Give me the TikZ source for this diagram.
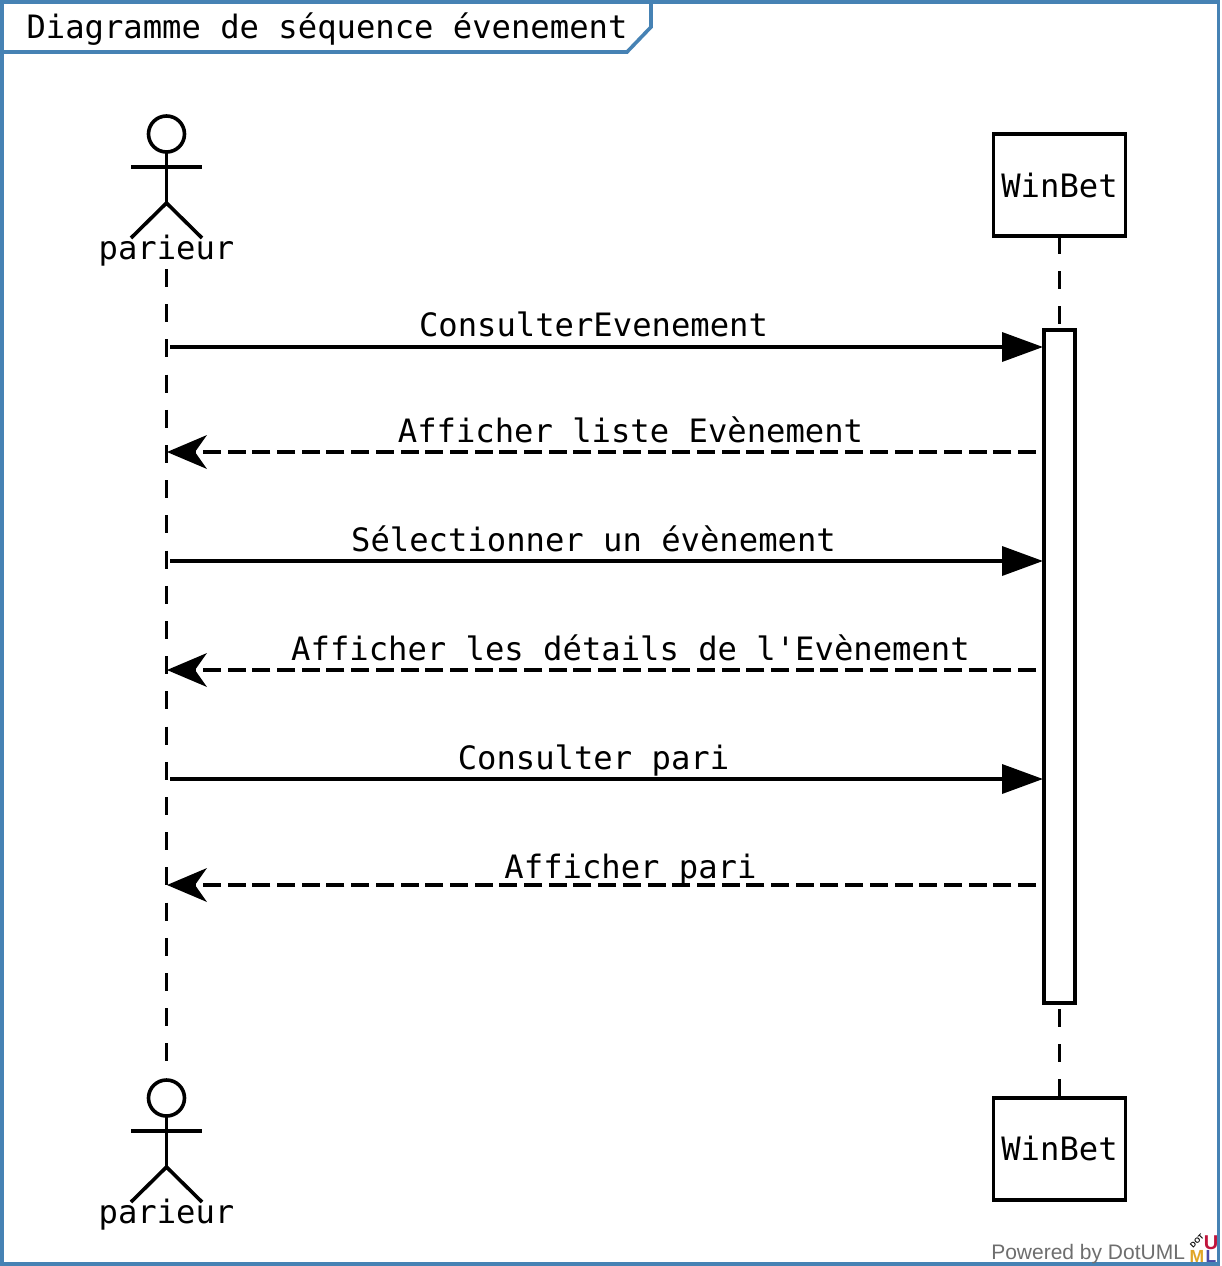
\documentclass[tikz,border=0pt]{standalone}
\usepackage{fontspec}
\setmonofont{DejaVu Sans Mono}
\newfontfamily\brandfont{Liberation Sans}
\usetikzlibrary{arrows.meta}
\definecolor{framecol}{HTML}{4682B4}
\definecolor{brandgray}{HTML}{6E6E6E}
\definecolor{dotyellow}{HTML}{E0A526}
\definecolor{dotred}{HTML}{C0143C}
\definecolor{dotblue}{HTML}{4A4AA8}
\tikzset{
  x=1pt,y=-1pt,
  every node/.style={inner sep=0pt,outer sep=0pt,font=\ttfamily\fontsize{32.2}{36}\selectfont},
  frameline/.style={draw=framecol,line width=3.6pt},
  fig/.style={draw=black,line width=3.6pt},
  objbox/.style={draw=black,fill=white,line width=3.6pt,minimum width=132pt,minimum height=102pt},
  actbox/.style={draw=black,fill=white,line width=3.6pt,minimum width=31pt,minimum height=673pt},
  life/.style={draw=black,line width=3.6pt,dash pattern=on 18pt off 17.2pt},
  call/.style={draw=black,line width=3.6pt,-{Triangle[length=41pt,width=29pt,fill=black]}},
  reply/.style={draw=black,line width=3.6pt,dash pattern=on 18pt off 6.7pt,-{Stealth[length=40pt,width=34pt,inset=12pt,line width=0pt,fill=black]}},
  msg/.style={anchor=base},
}
\newcommand{\stickman}[1]{%
  \draw[fig] (166.5,#1) circle[radius=18pt];
  \draw[fig] (166.5,#1+18) -- (166.5,#1+69);
  \draw[fig] (131,#1+33) -- (202,#1+33);
  \draw[fig] (131,#1+104) -- (166.5,#1+69) -- (202,#1+104);
}
\begin{document}
\begin{tikzpicture}
\useasboundingbox (0,0) rectangle (1221,1266);
\fill[white] (0,0) rectangle (1221,1266);
\draw[frameline] (2,2) rectangle (1218.5,1264);
\draw[frameline] (2,52) -- (627,52) -- (651,27) -- (651,2);
\node[anchor=base west] (title) at (26.5,38) {Diagramme de séquence évenement};

\coordinate (atop) at (166.5,269);
\coordinate (abot) at (166.5,1061);
\stickman{134}
\stickman{1098}
\node[anchor=base] (par1) at (166.5,259) {parieur};
\node[anchor=base] (par2) at (166.5,1223) {parieur};

\node[objbox] (w1) at (1059.5,185) {\raisebox{-0.5pt}{WinBet}};
\node[objbox] (w2) at (1059.5,1149) {\raisebox{0.5pt}{WinBet}};
\node[actbox] (act) at (1059.5,666.5) {};

\draw[life] (atop) -- (abot);
\draw[life] (w1.south) -- (act.north);
\draw[life,dash phase=29.2pt] (act.south) -- (w2.north);

\coordinate (a1) at (170,347);  \coordinate (b1) at (1043,347);
\coordinate (b2) at (1036,452); \coordinate (a2) at (167,452);
\coordinate (a3) at (170,561);  \coordinate (b3) at (1043,561);
\coordinate (b4) at (1036,670); \coordinate (a4) at (167,670);
\coordinate (a5) at (170,779);  \coordinate (b5) at (1043,779);
\coordinate (b6) at (1036,885); \coordinate (a6) at (167,885);

\draw[call] (a1) -- (b1);
\draw[reply] (b2) -- (a2);
\draw[call] (a3) -- (b3);
\draw[reply] (b4) -- (a4);
\draw[call] (a5) -- (b5);
\draw[reply] (b6) -- (a6);

\node[msg] (m1) at (593.5,336) {ConsulterEvenement};
\node[msg] (m2) at (630.5,442) {Afficher liste Evènement};
\node[msg] (m3) at (593.5,551) {Sélectionner un évènement};
\node[msg] (m4) at (630.5,660) {Afficher les détails de l'Evènement};
\node[msg] (m5) at (593.5,769) {Consulter pari};
\node[msg] (m6) at (630.5,878) {Afficher pari};

\node[anchor=base east,font=\brandfont\fontsize{21}{24}\selectfont,text=brandgray] (brand) at (1185,1259) {Powered by DotUML};
\node[anchor=base,font=\brandfont\bfseries\fontsize{17.5}{18}\selectfont,text=dotyellow] (lm) at (1197,1262) {M};
\node[anchor=base,font=\brandfont\bfseries\fontsize{20}{20}\selectfont,text=dotred] (lu) at (1211,1249.5) {U};
\node[anchor=base,font=\brandfont\bfseries\fontsize{17.5}{18}\selectfont,text=dotblue] (ll) at (1211,1262) {L};
\node[rotate=45,font=\brandfont\bfseries\fontsize{7.5}{8}\selectfont,text=black] (ld) at (1197,1241) {DOT};
\end{tikzpicture}
\end{document}
